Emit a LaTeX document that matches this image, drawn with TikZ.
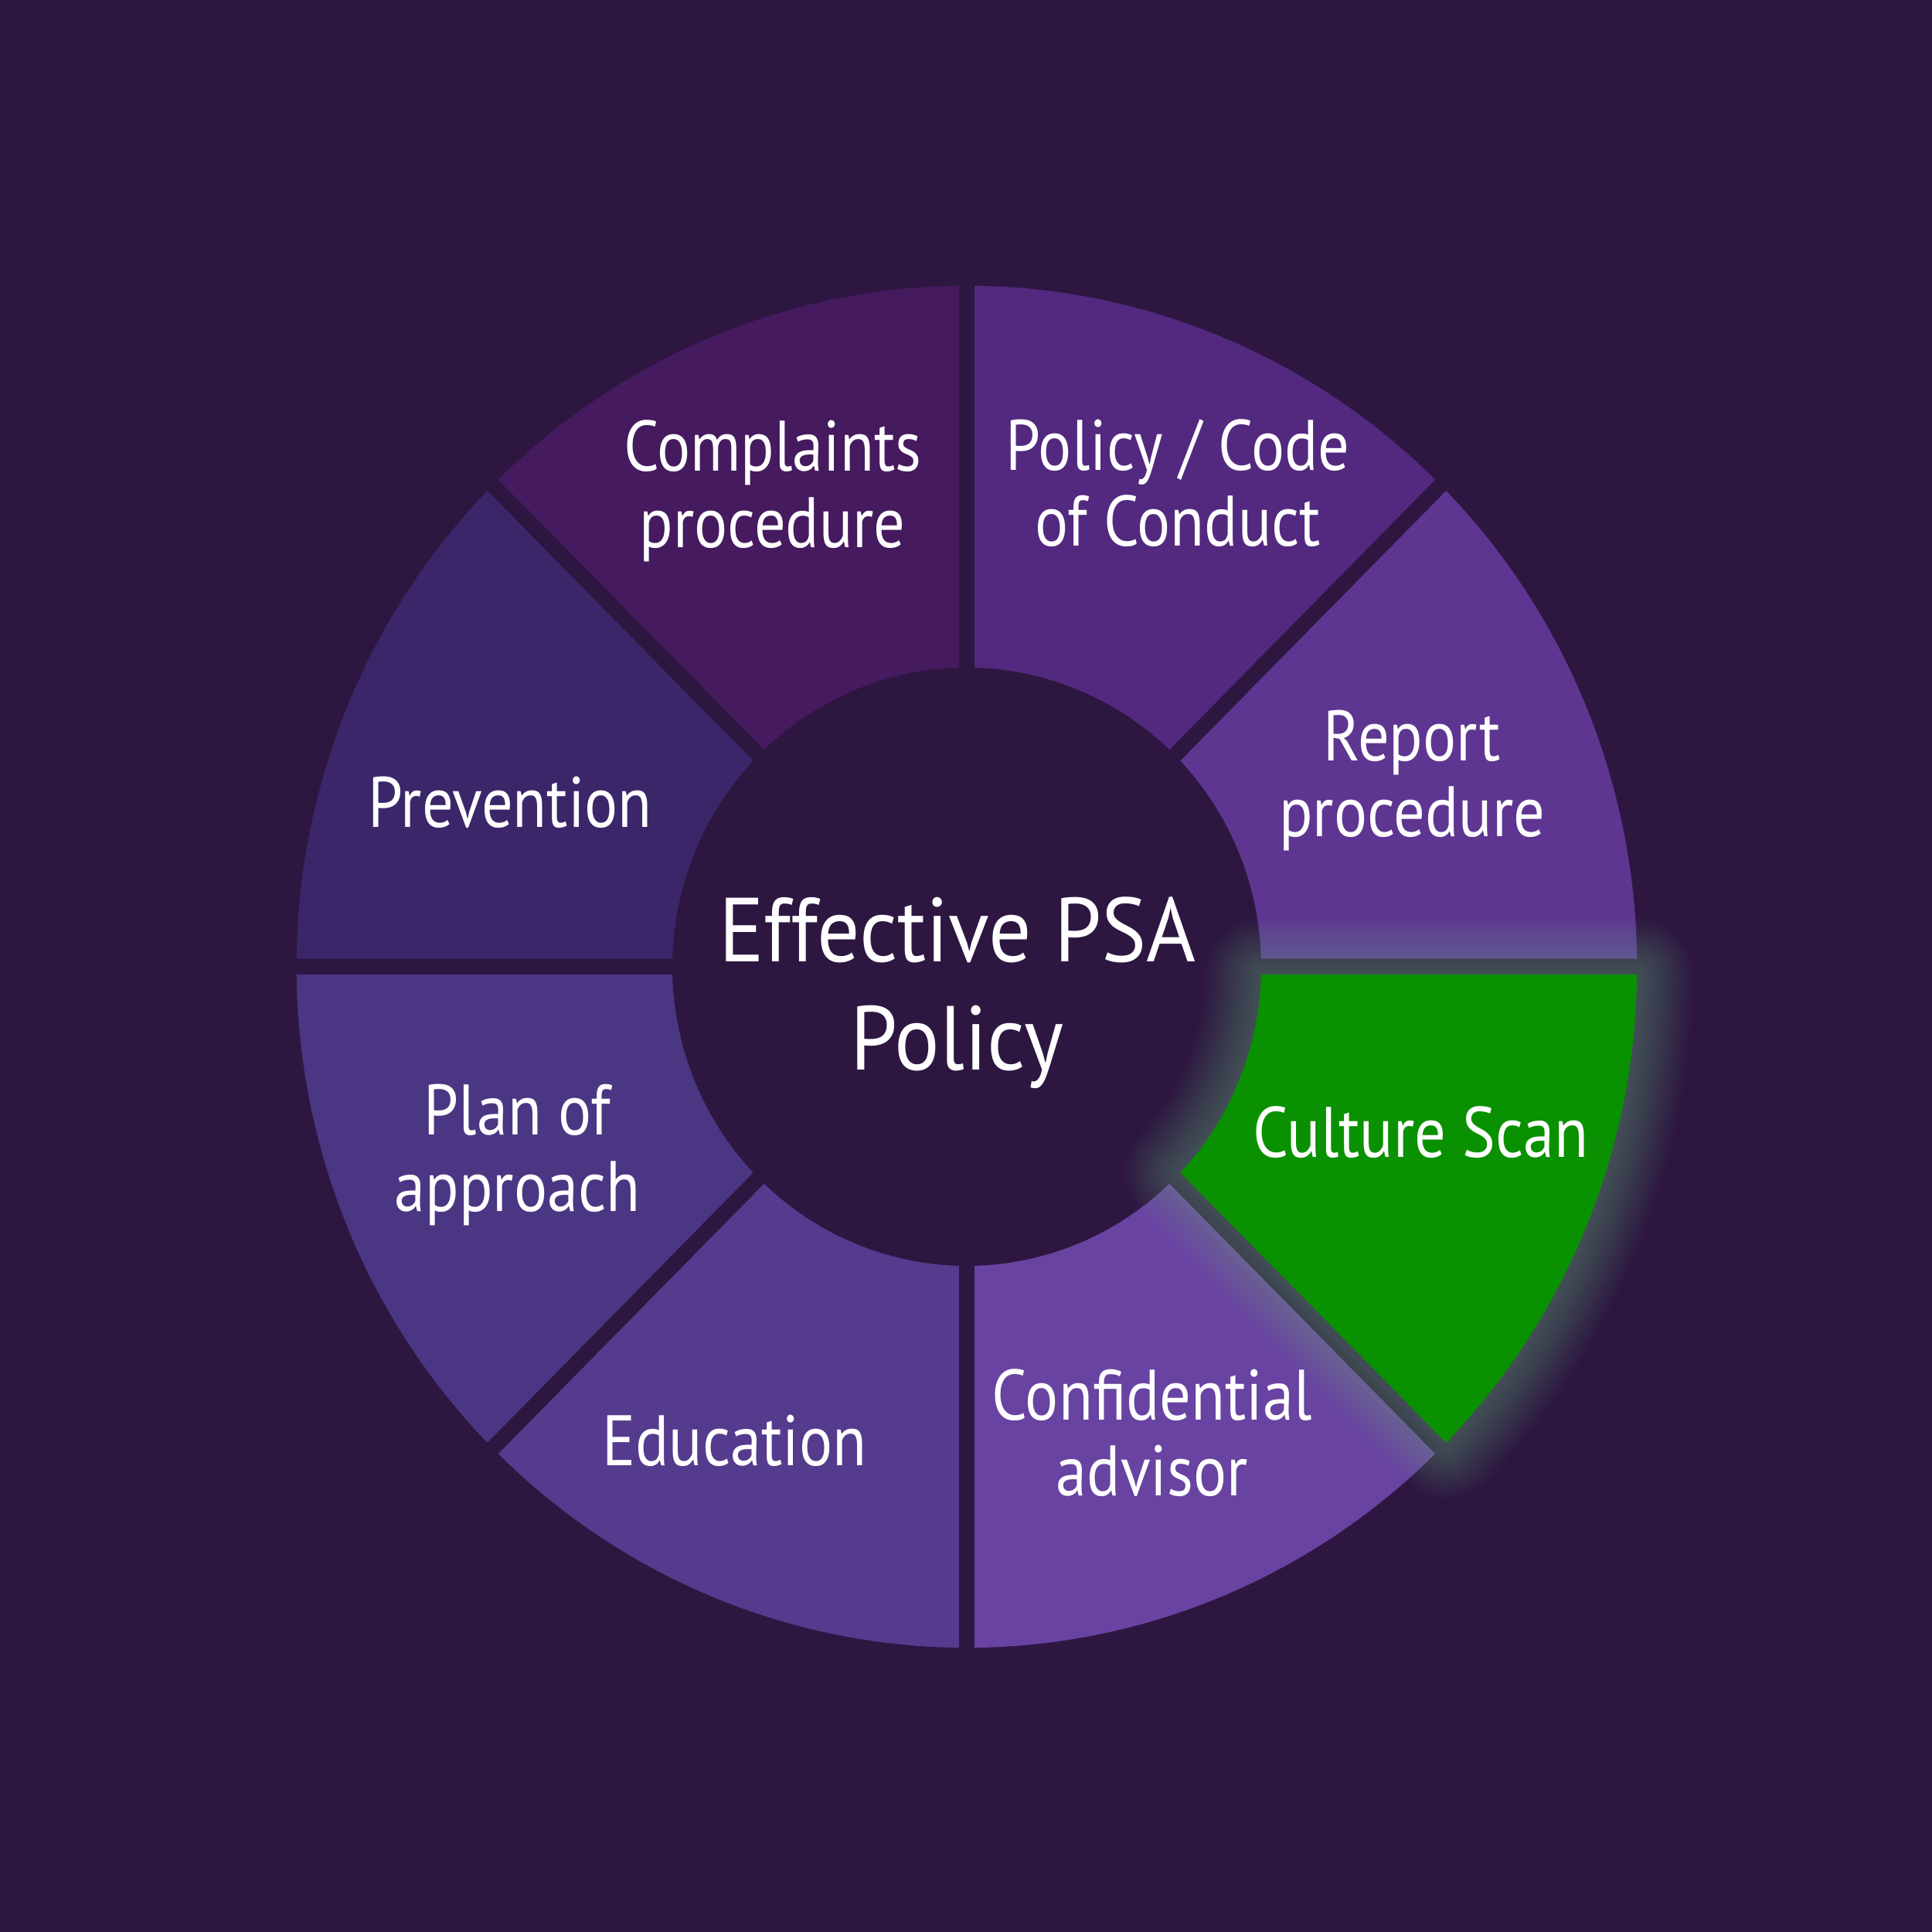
\documentclass[tikz,border=0pt]{standalone}
\usepackage{fontspec}
\setmainfont{PT Sans}
\newfontfamily\lblfont[FakeStretch=0.87]{PT Sans}
\newfontfamily\titlefont[FakeStretch=0.93]{PT Sans}
\begin{document}
\definecolor{bgc}{HTML}{2D1741}
\definecolor{cComp}{HTML}{451A5E}
\definecolor{cPol}{HTML}{52297F}
\definecolor{cRep}{HTML}{5E3691}
\definecolor{cCul}{HTML}{0A9102}
\definecolor{cConf}{HTML}{6843A1}
\definecolor{cEdu}{HTML}{553B8D}
\definecolor{cPlan}{HTML}{4B3683}
\definecolor{cPrev}{HTML}{3C266A}
\definecolor{glowc}{HTML}{90D890}
\begin{tikzpicture}[
  lbl/.style={text=white, align=center, font=\lblfont\fontsize{16.5pt}{17.6pt}\selectfont, inner sep=0pt},
  title/.style={text=white, align=center, font=\titlefont\fontsize{21pt}{25pt}\selectfont, inner sep=0pt}]
\fill[bgc] (0,0) rectangle (15.68,15.68);
\useasboundingbox (0,0) rectangle (15.68,15.68);
\def\R{5.44}\def\r{2.39}\def\g{0.063}
\pgfmathsetmacro\dR{asin(\g/\R)}
\pgfmathsetmacro\dr{asin(\g/\r)}
\newcommand\secpath[2]{({#1+\dR}:\R) arc[start angle={#1+\dR}, end angle={#2-\dR}, radius=\R] -- ({#2-\dr}:\r) arc[start angle={#2-\dr}, end angle={#1+\dr}, radius=\r] -- cycle}
\begin{scope}[shift={(7.846,7.834)}, yscale=1.016]
  \coordinate (c) at (0,0);
  \fill[cRep]  \secpath{0}{45};
  \fill[cPol]  \secpath{45}{90};
  \fill[cComp] \secpath{90}{135};
  \fill[cPrev] \secpath{135}{180};
  \fill[cPlan] \secpath{180}{225};
  \fill[cEdu]  \secpath{225}{270};
  \fill[cConf] \secpath{270}{315};
  % glow
  \foreach \i in {1,...,20}{
    \draw[glowc, opacity=0.019, line width=\i*0.045cm, line join=round] \secpath{-45}{0};
  }
  \fill[cCul] \secpath{-45}{0};
\end{scope}
\node[title] (center) at (7.77,7.62) {Effective PSA\\Policy};
\node[lbl] (comp) at (6.27,11.695) {Complaints\\procedure};
\node[lbl] (pol) at (9.56,11.76) {Policy / Code\\of Conduct};
\node[lbl] (rep) at (11.46,9.345) {Report\\procedure};
\node[lbl] (cul) at (11.53,6.49) {Culture Scan};
\node[lbl] (conf) at (9.35,4.05) {Confidential\\advisor};
\node[lbl] (edu) at (5.96,3.99) {Education};
\node[lbl] (plan) at (4.20,6.305) {Plan of\\approach};
\node[lbl] (prev) at (4.14,9.165) {Prevention};
\end{tikzpicture}
\end{document}
